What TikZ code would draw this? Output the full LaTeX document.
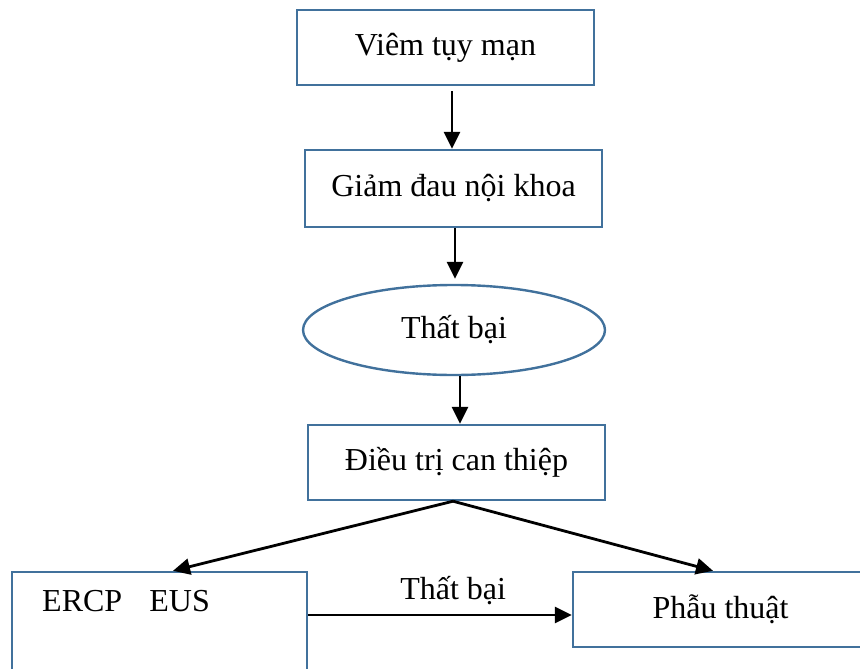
\documentclass[tikz,border=0pt]{standalone}
\usepackage{fontspec}
\setmainfont{Liberation Serif}
\usepackage{tikz}
\usetikzlibrary{shapes.geometric,arrows.meta}

\definecolor{boxline}{RGB}{65,113,156}
\tikzset{
  stepbox/.style={draw=boxline, line width=1.2pt, rectangle, inner sep=0pt},
  failoval/.style={draw=boxline, line width=1.2pt, ellipse, inner sep=0pt},
  arr/.style={-{Triangle[length=8.5pt,width=8pt]}, line width=1.4pt, black},
  every node/.style={font=\fontsize{16}{19}\selectfont},
}

\begin{document}
\begin{tikzpicture}[x=0.5pt,y=-0.5pt]
            \useasboundingbox (0,0) rectangle (860,668);
            \clip (0,0) rectangle (860,668);
            \node[stepbox, minimum width=148.5pt, minimum height=37.5pt] (viem) at (445.5,47.5) {Viêm tụy mạn}; % start
            \node[stepbox, minimum width=148.5pt, minimum height=38.5pt] (giam) at (453.5,188.5) {Giảm đau nội khoa}; % medical
            \node[failoval, minimum width=151pt, minimum height=45pt] (oval) at (454,330) {Thất bại}; % failure
            \node[stepbox, minimum width=148.5pt, minimum height=37.5pt] (can) at (456.5,462.5) {Điều trị can thiệp}; % intervention
            \node[stepbox, minimum width=147.5pt, minimum height=55pt] (ercp) at (159.5,627) {}; % ERCP / EUS box
            \node[anchor=base west, inner sep=0pt] (ercptext) at ([xshift=15.5pt,yshift=-20.5pt]ercp.north west) {ERCP\hspace{0.85em}EUS};
            \node[stepbox, minimum width=147.5pt, minimum height=37.5pt] (phau) at (720.5,609.5) {Phẫu thuật}; % surgery
            \draw[arr, shorten <=2.5pt] (viem.south -| 452,0) -- (giam.north -| 452,0);
            \draw[arr, shorten >=2.5pt] (giam.south -| 455,0) -- (oval.north -| 455,0);
            \draw[arr] (oval.south -| 460,0) -- (can.north -| 460,0);
            \coordinate (split) at (can.south -| 453,0);
            \draw[arr] (split) -- (ercp.north -| 173,0);
            \draw[arr] (split) -- (phau.north -| 713,0);
            \draw[arr] (ercp.east |- 0,615) -- node[pos=0.55, yshift=12pt] (thatbai) {Thất bại} (phau.west |- 0,615);
        \end{tikzpicture}
\end{document}
